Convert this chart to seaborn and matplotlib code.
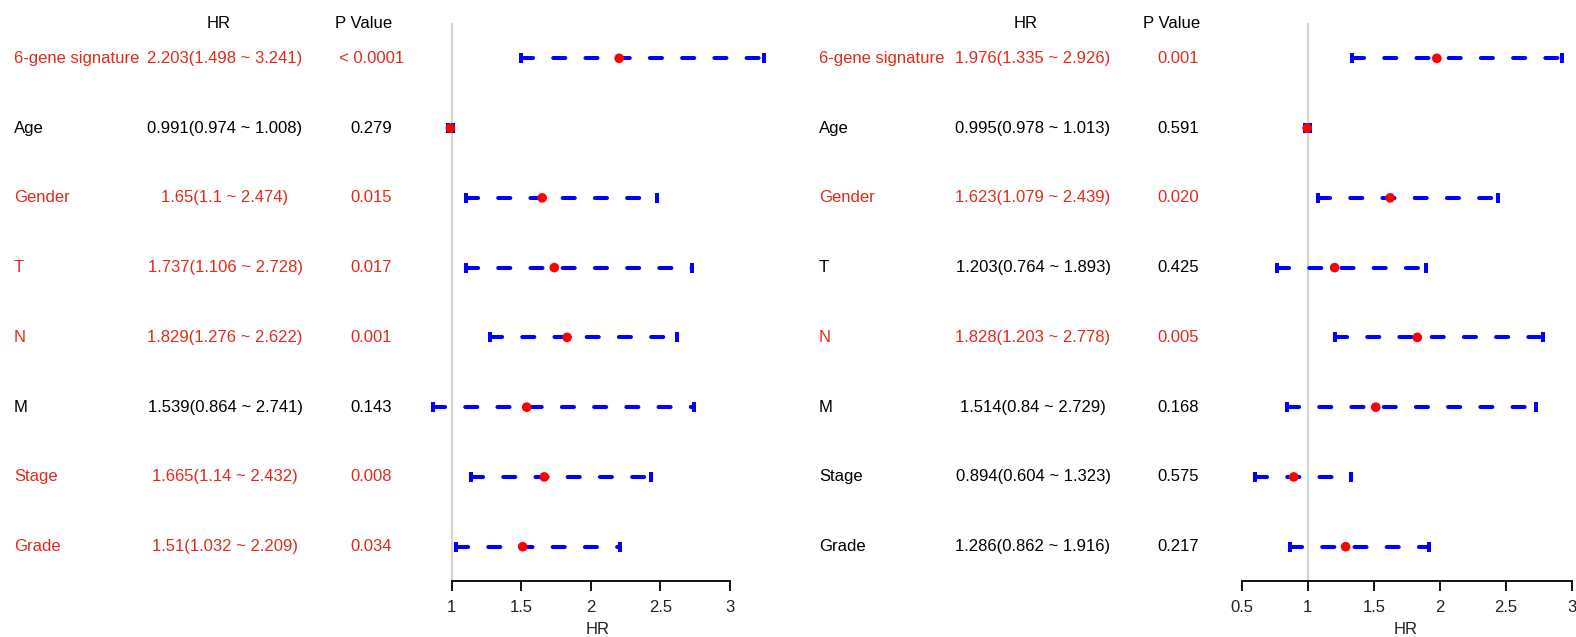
import numpy as np
import pandas as pd
import matplotlib
matplotlib.use("Agg")
import matplotlib.pyplot as plt
import matplotlib.transforms as mtransforms
import seaborn as sns

# ---------------- data ----------------
variables = ["6-gene signature", "Age", "Gender", "T", "N", "M", "Stage", "Grade"]

left_hr = [2.203, 0.991, 1.65, 1.737, 1.829, 1.539, 1.665, 1.51]
left_lo = [1.498, 0.974, 1.1, 1.106, 1.276, 0.864, 1.14, 1.032]
left_hi = [3.241, 1.008, 2.474, 2.728, 2.622, 2.741, 2.432, 2.209]
left_p = ["< 0.0001", "0.279", "0.015", "0.017", "0.001", "0.143", "0.008", "0.034"]
left_sig = [True, False, True, True, True, False, True, True]

right_hr = [1.976, 0.995, 1.623, 1.203, 1.828, 1.514, 0.894, 1.286]
right_lo = [1.335, 0.978, 1.079, 0.764, 1.203, 0.84, 0.604, 0.862]
right_hi = [2.926, 1.013, 2.439, 1.893, 2.778, 2.729, 1.323, 1.916]
right_p = ["0.001", "0.591", "0.020", "0.425", "0.005", "0.168", "0.575", "0.217"]
right_sig = [True, False, True, False, True, False, False, False]

left_ticks = [1, 1.5, 2, 2.5, 3]
right_ticks = [0.5, 1, 1.5, 2, 2.5, 3]

# ---------------- style ----------------
sns.set_theme(style="white")
plt.rcParams["font.family"] = ["Liberation Sans", "DejaVu Sans"]
FS = 12
plt.rcParams["font.size"] = FS

RED_TXT = "#E3291C"
W, H = 1576, 637
fig = plt.figure(figsize=(W / 100, H / 100), dpi=100)

ax_bottom_px = 580.7
ax_top_px = 23.0
ylim = (7.487, -0.506)


def fmt(v):
    s = ("%.3f" % v).rstrip("0").rstrip(".")
    return s


def make_panel(xlim, px_left, px_right, ticks, spine_bounds, hr, lo, hi, pv, sig,
               x_label, x_hr, x_p, x_hr_head, x_p_head):
    ax = fig.add_axes([px_left / W, 1 - ax_bottom_px / H,
                       (px_right - px_left) / W, (ax_bottom_px - ax_top_px) / H])
    ax.set_xlim(*xlim)
    ax.set_ylim(*ylim)
    ax.axvline(1, color="#D3D3D3", lw=1.6, zorder=1)
    ypos = np.arange(len(hr))
    for i in range(len(hr)):
        ax.plot([lo[i], hi[i]], [ypos[i], ypos[i]], color="#0000FF", lw=2.9,
                linestyle=(0, (3, 5)), dash_capstyle="round", zorder=2)
        ax.plot([lo[i], hi[i]], [ypos[i], ypos[i]], linestyle="none", marker="|",
                markersize=7.5, mew=2.9, color="#0000FF", zorder=2)
    df = pd.DataFrame({"HR": hr, "row": ypos})
    sns.scatterplot(data=df, x="HR", y="row", ax=ax, color="#FF0000", s=48,
                    edgecolor="none", zorder=3, legend=False)
    ax.set_ylim(*ylim)
    for sp in ["top", "right", "left"]:
        ax.spines[sp].set_visible(False)
    ax.spines["bottom"].set_bounds(*spine_bounds)
    ax.spines["bottom"].set_color("black")
    ax.spines["bottom"].set_linewidth(1.3)
    ax.set_xticks(ticks)
    ax.set_xticklabels([fmt(t) for t in ticks], fontsize=FS, color="#222222")
    ax.tick_params(axis="x", length=7.2, width=1.3, color="black", pad=7, bottom=True)
    ax.set_yticks([])
    ax.set_xlabel("HR", fontsize=FS, color="#222222", labelpad=5)
    ax.set_ylabel("")

    tr = mtransforms.blended_transform_factory(fig.transFigure, ax.transData)
    for i in range(len(hr)):
        c = RED_TXT if sig[i] else "black"
        ax.text(x_label / W, ypos[i], variables[i], transform=tr, ha="left",
                va="center", color=c, fontsize=FS)
        ax.text(x_hr / W, ypos[i], "%s(%s ~ %s)" % (fmt(hr[i]), fmt(lo[i]), fmt(hi[i])),
                transform=tr, ha="center", va="center", color=c, fontsize=FS)
        ax.text(x_p / W, ypos[i], pv[i], transform=tr, ha="center", va="center",
                color=c, fontsize=FS)
    fig.text(x_hr_head / W, 1 - 23.5 / H, "HR", ha="center", va="center", fontsize=FS,
             color="black")
    fig.text(x_p_head / W, 1 - 23.5 / H, "P Value", ha="center", va="center",
             fontsize=FS, color="black")
    return ax


# left panel: 1 -> 451.7 px, 139.2 px per unit
lx0, lx1 = 0.8, 3.3
make_panel((lx0, lx1), 451.7 + (lx0 - 1) * 139.2, 451.7 + (lx1 - 1) * 139.2,
           left_ticks, (1, 3), left_hr, left_lo, left_hi, left_p, left_sig,
           14, 225, 371.5, 219, 364)

# right panel: 0.5 -> 1241.7 px, 132.2 px per unit
rx0 = 0.45
rx1 = 0.5 + (1576 - 1241.7) / 132.2
make_panel((rx0, rx1), 1241.7 + (rx0 - 0.5) * 132.2, 1576,
           right_ticks, (0.5, 3), right_hr, right_lo, right_hi, right_p, right_sig,
           819, 1033, 1178, 1025.5, 1172)

fig.savefig("out.png", dpi=100, facecolor="white")
